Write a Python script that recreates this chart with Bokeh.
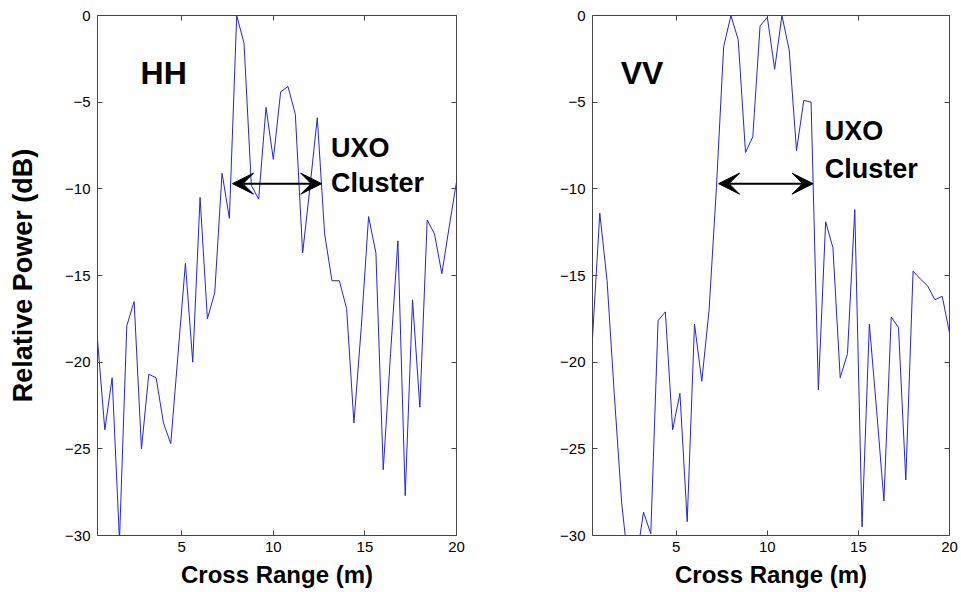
from bokeh.plotting import figure
from bokeh.layouts import row
from bokeh.models import Range1d, FixedTicker, LinearAxis, Arrow, VeeHead, Label
from bokeh.embed import file_html
from bokeh.resources import INLINE

# ---------------- data ----------------
cross_range = [0.4, 0.8, 1.2, 1.6, 2.0, 2.4, 2.8, 3.2, 3.6, 4.0,
               4.4, 4.8, 5.2, 5.6, 6.0, 6.4, 6.8, 7.2, 7.6, 8.0,
               8.4, 8.8, 9.2, 9.6, 10.0, 10.4, 10.8, 11.2, 11.6, 12.0,
               12.4, 12.8, 13.2, 13.6, 14.0, 14.4, 14.8, 15.2, 15.6, 16.0,
               16.4, 16.8, 17.2, 17.6, 18.0, 18.4, 18.8, 19.2, 19.6, 20.0]

hh_power = [-18.7, -23.9, -20.9, -30.3, -17.9, -16.5, -25.0, -20.7, -20.9, -23.5,
            -24.7, -19.5, -14.3, -20.0, -10.5, -17.5, -16.0, -9.1, -11.7, 0.0,
            -1.6, -9.8, -10.6, -5.3, -8.3, -4.4, -4.1, -5.7, -13.7, -9.9,
            -5.9, -12.6, -15.3, -15.3, -16.9, -23.5, -18.0, -11.6, -13.7, -26.2,
            -19.5, -13.0, -27.7, -16.4, -22.6, -11.8, -12.6, -14.9, -12.2, -9.6]

vv_power = [-18.6, -11.4, -15.3, -21.9, -28.1, -32.0, -31.5, -28.65, -29.9, -17.6,
            -17.1, -23.9, -21.8, -29.2, -17.8, -21.1, -17.0, -10.0, -1.8, 0.0,
            -1.4, -7.9, -7.0, -0.6, -0.1, -3.1, 0.0, -2.0, -7.8, -4.9,
            -5.0, -21.6, -11.9, -13.4, -20.9, -19.5, -11.2, -29.5, -17.8, -22.8,
            -28.0, -17.4, -18.0, -26.8, -14.75, -15.2, -15.6, -16.4, -16.2, -18.3]

x_ticks = [5, 10, 15, 20]
x_tick_labels = ["5", "10", "15", "20"]
y_ticks = [-30, -25, -20, -15, -10, -5, 0]
y_tick_labels = ["\u221230", "\u221225", "\u221220", "\u221215", "\u221210", "\u22125", "0"]

panel_names = ["HH", "VV"]
panel_series = [hh_power, vv_power]
# arrow spans (cross range, m) and level (dB) of the "UXO Cluster" arrows
arrow_x0 = [7.77, 7.32]
arrow_x1 = [12.64, 12.51]
arrow_y = [-9.7, -9.7]
# label anchors
name_x = [2.75, 1.95]
name_y = [-3.29, -3.29]
uxo_x = [13.15, 13.15]
uxo_y = [-7.62, -6.64]
cluster_y = [-9.69, -8.83]

FONT = "Liberation Sans"
LINE_COLOR = "#2323dd"
BOX_COLOR = "#444444"


def make_panel(k, width, border_left, border_right, ylabel):
    p = figure(width=width, height=592, output_backend="svg", toolbar_location=None,
               x_range=Range1d(0.4, 20), y_range=Range1d(-30, 0),
               min_border_left=border_left, min_border_right=border_right,
               min_border_top=15, min_border_bottom=57)
    p.background_fill_color = "white"
    p.border_fill_color = "white"
    p.outline_line_color = BOX_COLOR
    p.outline_line_width = 1
    p.xgrid.visible = False
    p.ygrid.visible = False

    p.line(cross_range, panel_series[k], line_color=LINE_COLOR, line_width=1)

    # axes
    xa = p.xaxis[0]
    xa.ticker = FixedTicker(ticks=x_ticks)
    xa.major_label_overrides = dict(zip(x_ticks, x_tick_labels))
    ya = p.yaxis[0]
    ya.ticker = FixedTicker(ticks=y_ticks)
    ya.major_label_overrides = dict(zip(y_ticks, y_tick_labels))
    for ax in (xa, ya):
        ax.axis_line_color = None
        ax.major_tick_in = 5
        ax.major_tick_out = 0
        ax.major_tick_line_color = BOX_COLOR
        ax.minor_tick_line_color = None
        ax.major_label_text_font = FONT
        ax.major_label_text_font_size = "15px"
        ax.major_label_text_color = "black"
        ax.axis_label_text_font = FONT
        ax.axis_label_text_font_style = "bold"
        ax.axis_label_text_font_size = "24px"
        ax.axis_label_text_color = "black"
    xa.major_label_standoff = 6
    ya.major_label_standoff = 7
    xa.axis_label = "Cross Range (m)"
    xa.axis_label_standoff = 6
    if ylabel:
        ya.axis_label = "Relative Power (dB)"
        ya.axis_label_text_font_size = "27px"
        ya.axis_label_standoff = 24

    # mirrored ticks on top and right
    top = LinearAxis(ticker=FixedTicker(ticks=x_ticks),
                     major_label_overrides={t: "" for t in x_ticks},
                     major_label_text_font_size="0px", major_label_standoff=0,
                     axis_line_color=None, minor_tick_line_color=None,
                     major_tick_in=5, major_tick_out=0, major_tick_line_color=BOX_COLOR)
    right = LinearAxis(ticker=FixedTicker(ticks=y_ticks),
                       major_label_overrides={t: "" for t in y_ticks},
                       major_label_text_font_size="0px", major_label_standoff=0,
                       axis_line_color=None, minor_tick_line_color=None,
                       major_tick_in=5, major_tick_out=0, major_tick_line_color=BOX_COLOR)
    p.add_layout(top, "above")
    p.add_layout(right, "right")

    # annotation arrow
    p.add_layout(Arrow(x_start=arrow_x0[k], y_start=arrow_y[k], x_end=arrow_x1[k], y_end=arrow_y[k],
                       line_color="black", line_width=2,
                       start=VeeHead(size=21, fill_color="black", line_color="black", line_width=1),
                       end=VeeHead(size=21, fill_color="black", line_color="black", line_width=1)))

    p.add_layout(Label(x=name_x[k], y=name_y[k], text=panel_names[k], text_font=FONT,
                       text_font_style="bold", text_font_size="32px", text_color="black",
                       text_baseline="alphabetic", text_align="left"))
    p.add_layout(Label(x=uxo_x[k], y=uxo_y[k], text="UXO", text_font=FONT,
                       text_font_style="bold", text_font_size="27px", text_color="black",
                       text_baseline="alphabetic", text_align="left"))
    p.add_layout(Label(x=uxo_x[k], y=cluster_y[k], text="Cluster", text_font=FONT,
                       text_font_style="bold", text_font_size="27px", text_color="black",
                       text_baseline="alphabetic", text_align="left"))
    return p


p1 = make_panel(0, 480, 97, 24, True)
p2 = make_panel(1, 481, 112, 12, False)

layout = row(p1, p2)
open("out.html", "w").write(file_html(layout, INLINE))
